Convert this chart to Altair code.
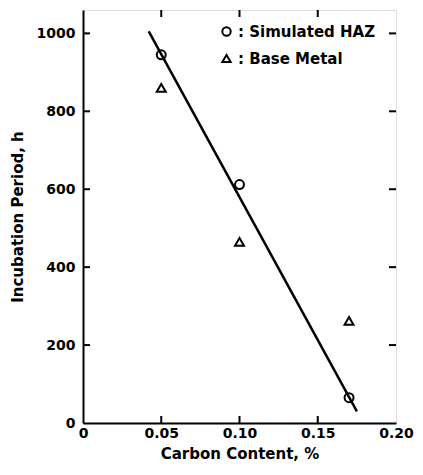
import altair as alt
import pandas as pd

# data
haz_c = [0.05, 0.10, 0.17]
haz_t = [945, 612, 65]
base_c = [0.05, 0.10, 0.17]
base_t = [860, 465, 262]
fit_c = [0.042, 0.175]
fit_t = [1005, 30]
x_ticks = [0, 0.05, 0.10, 0.15, 0.20]
x_labels = ["0", "0.05", "0.10", "0.15", "0.20"]
y_ticks = [0, 200, 400, 600, 800, 1000]
series = ["Simulated HAZ", "Base Metal"]

pts = pd.DataFrame(
    {"c": haz_c + base_c, "t": haz_t + base_t,
     "s": [series[0]] * len(haz_c) + [series[1]] * len(base_c)}
)
fit = pd.DataFrame({"c": fit_c, "t": fit_t})
xt = pd.DataFrame({"c": x_ticks[1:-1]})
yt = pd.DataFrame({"t": y_ticks[1:]})

W, H = 313, 413
FONT = "DejaVu Sans"
lab_map = "{" + ",".join(f"'{v}':'{l}'" for v, l in zip(x_ticks, x_labels)) + "}"

xs = alt.Scale(domain=[0, 0.2], nice=False, zero=False)
ys = alt.Scale(domain=[0, 1060], nice=False, zero=False)

x_axis = alt.Axis(values=x_ticks, ticks=False, grid=False, labelExpr=f"{lab_map}[toString(datum.value)] || datum.label",
                  labelFont=FONT, labelFontSize=14, labelFontWeight="bold", labelColor="black",
                  title="Carbon Content, %", titleFont=FONT, titleFontSize=15, titleFontWeight="bold",
                  titleColor="black", titlePadding=6, domainColor="black", domainWidth=2, labelPadding=3,
                  labelFlush=False)
y_axis = alt.Axis(values=y_ticks, ticks=False, grid=False, format="d", labelFont=FONT, labelFontSize=14,
                  labelFontWeight="bold", labelColor="black", title="Incubation Period, h",
                  titleFont=FONT, titleFontSize=15, titleFontWeight="bold", titleColor="black",
                  titlePadding=11, domainColor="black", domainWidth=2, labelPadding=8)

line = alt.Chart(fit).mark_line(color="black", strokeWidth=2.5).encode(
    x=alt.X("c:Q", scale=xs, axis=x_axis),
    y=alt.Y("t:Q", scale=ys, axis=y_axis),
)

points = alt.Chart(pts).mark_point(filled=False, strokeWidth=2, size=80, color="black", opacity=1).encode(
    x=alt.X("c:Q", scale=xs),
    y=alt.Y("t:Q", scale=ys),
    shape=alt.Shape("s:N", scale=alt.Scale(domain=series, range=["circle", "triangle-up"]),
                    legend=alt.Legend(orient="none", legendX=136, legendY=14, title=None,
                                      labelExpr="': ' + datum.label", labelFont=FONT,
                                      labelFontSize=15, labelFontWeight="bold", labelColor="black",
                                      symbolStrokeColor="black", symbolStrokeWidth=2, symbolSize=70,
                                      symbolFillColor="transparent", rowPadding=10, labelOffset=4)),
)

bt = alt.Chart(xt).mark_rule(color="black", strokeWidth=2).encode(
    x=alt.X("c:Q", scale=xs), y=alt.value(H), y2=alt.value(H - 7))
tt = alt.Chart(xt).mark_rule(color="black", strokeWidth=2).encode(
    x=alt.X("c:Q", scale=xs), y=alt.value(0), y2=alt.value(7))
lt = alt.Chart(yt).mark_rule(color="black", strokeWidth=2).encode(
    y=alt.Y("t:Q", scale=ys), x=alt.value(0), x2=alt.value(7))
rt = alt.Chart(yt).mark_rule(color="black", strokeWidth=2).encode(
    y=alt.Y("t:Q", scale=ys), x=alt.value(W), x2=alt.value(W - 7))

chart = alt.layer(line, bt, tt, lt, rt, points).properties(
    width=W, height=H,
    autosize=alt.AutoSizeParams(type="none"),
    padding={"left": 75, "top": 2, "right": 19, "bottom": 40},
).configure_view(stroke="black", strokeWidth=2).configure(background="white")

chart.save("out.html", embed_options={"renderer": "svg", "actions": False})
